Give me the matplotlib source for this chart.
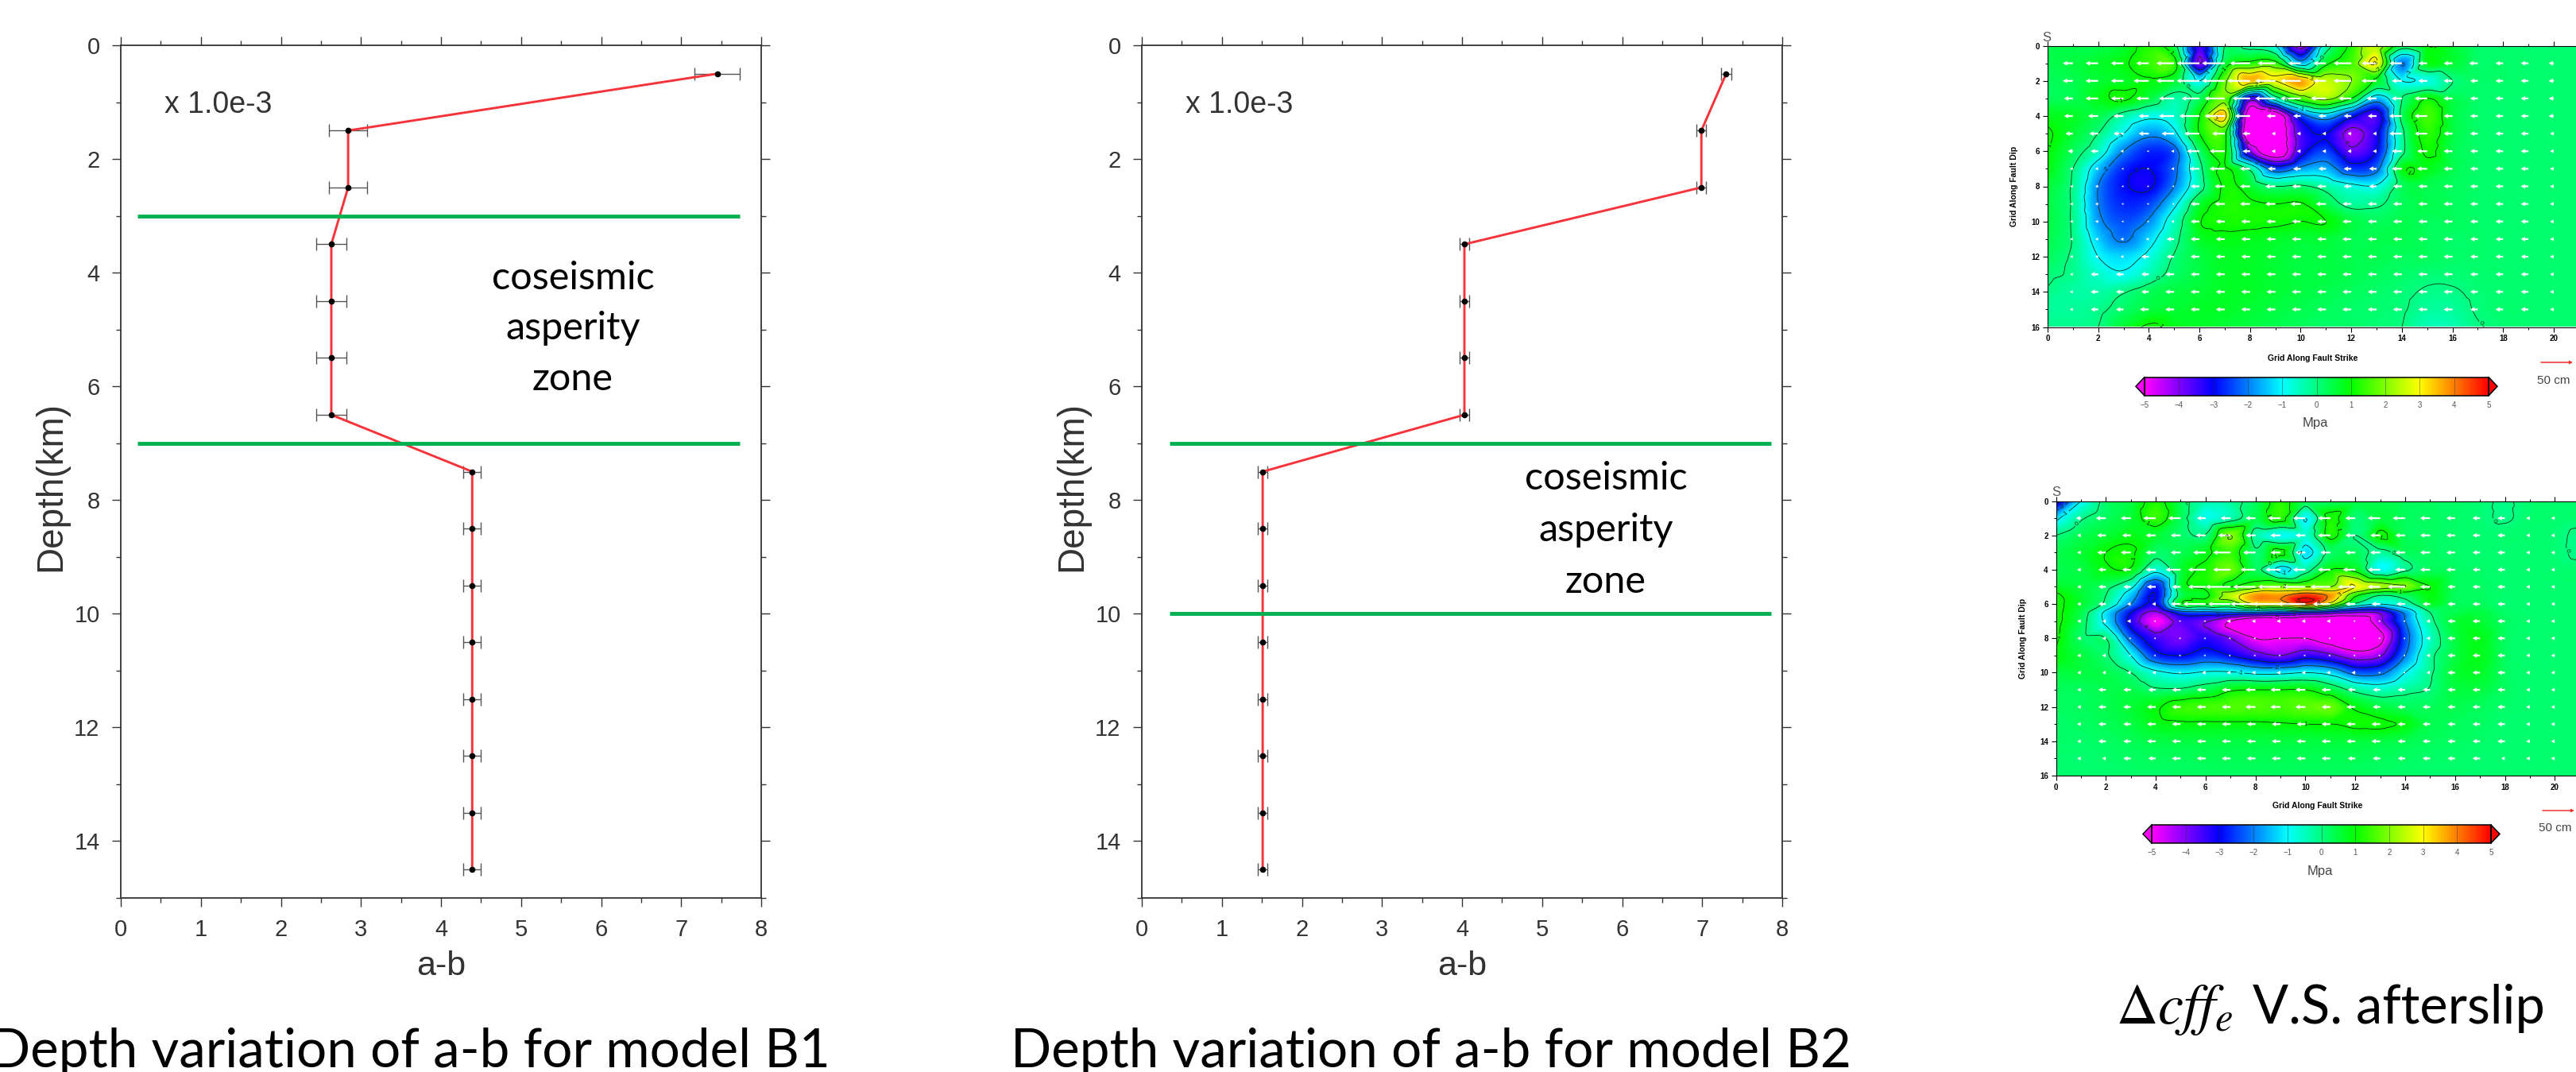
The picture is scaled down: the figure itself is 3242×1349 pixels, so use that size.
#!/usr/bin/env python3
"""Depth variation of a-b for models B1/B2 and the two stress-change maps."""
import matplotlib

matplotlib.use("Agg")

import matplotlib.pyplot as plt
import matplotlib.tri as mtri
import numpy as np
from matplotlib.colors import LinearSegmentedColormap
from matplotlib.patches import FancyArrowPatch, Polygon

W, H = 3242, 1349

depth = [0.5, 1.5, 2.5, 3.5, 4.5, 5.5, 6.5, 7.5, 8.5, 9.5, 10.5, 11.5, 12.5, 13.5, 14.5]
ab_b1 = [7.45, 2.84, 2.84, 2.63, 2.63, 2.63, 2.63, 4.39, 4.39, 4.39, 4.39, 4.39, 4.39, 4.39, 4.39]
err_b1 = [0.28, 0.24, 0.24, 0.185, 0.185, 0.185, 0.185, 0.11, 0.11, 0.11, 0.11, 0.11, 0.11, 0.11, 0.11]
ab_b2 = [7.3, 6.99, 6.99, 4.03, 4.03, 4.03, 4.03, 1.51, 1.51, 1.51, 1.51, 1.51, 1.51, 1.51, 1.51]
err_b2 = [0.06] * 15
zone_b1 = [3, 7]
zone_b2 = [7, 10]

strike = list(range(22))
dip_a = list(range(17))
cff_a = [
    [.4, .4, .4, .6, 1.2, .3, -3.5, 0, -.3, -1, -4.5, -.5, 1.2, 2.5, .5, 1, .6, .2, .15, .15, .15, .15],
    [.4, .5, .7, .9, 1.4, 1.3, -4, .5, 1.2, 1.3, -1.5, .8, 1.5, 3, -2, .8, .6, .2, .2, .15, .15, .15],
    [.3, .4, .6, .7, .9, .6, -1, 1.8, 3.5, 3, 3.7, 2.5, 2, .8, -1, -.8, 0, .2, .2, .15, .15, .15],
    [.3, .4, .8, 1.1, .5, -.3, .3, 1.8, -3.5, -.5, 1.5, 2.2, 1, -1.5, 0, 1, .4, .2, .15, .15, .15, .15],
    [.8, .7, .4, -.3, -.8, -.6, 1, 3.3, -6, -6, -2.5, -1.5, -2.8, -3.5, .2, 1.5, .5, .2, .15, .15, .15, .15],
    [1.1, .6, 0, -1, -1.8, -1.2, 1, 1.2, -6.5, -6, -3.5, -3, -4.3, -3.2, -.2, 1.3, .5, .2, .15, .15, .15, .15],
    [1, .3, -.5, -2, -2.7, -2.3, .2, 1.1, -4, -6, -3.4, -2.5, -3.8, -3, -.2, 1.1, .4, .2, .15, .15, .15, .15],
    [.9, 0, -1.5, -2.7, -3, -2.2, -.2, 1.1, -.2, -2.5, -1.8, -1.6, -2.6, -2.2, .8, .8, .4, .2, .15, .15, .15, .15],
    [.6, -.1, -2, -2.9, -3.1, -2, -.3, 1.1, .6, 0, .1, -.3, -.8, -.9, .3, .4, .3, .2, .15, .15, .15, .15],
    [.5, -.1, -2, -2.7, -2.5, -1.2, .6, 1.2, 1.1, 1, 1.05, .4, -.2, -.1, .3, .4, .3, .2, .15, .15, .15, .15],
    [.5, -.1, -1.8, -2.4, -1.9, -.5, .95, 1.15, 1.15, 1.1, 1, 1, .5, .3, .4, .3, .3, .2, .15, .15, .15, .15],
    [.4, -.05, -1.4, -2.1, -1.3, -.2, .7, .85, .8, .7, .6, .6, .4, .4, .4, .3, .2, .2, .15, .15, .15, .15],
    [.3, -.1, -1, -1.3, -.8, .05, .5, .7, .7, .6, .5, .5, .4, .4, .3, .3, .2, .2, .15, .15, .15, .15],
    [.1, -.1, -.6, -.9, -.4, .2, .5, .7, .7, .6, .5, .5, .4, .3, .2, .1, .1, .15, .15, .15, .15, .15],
    [-.05, -.25, -.3, -.05, .3, .5, .6, .7, .7, .6, .5, .4, .3, .2, .1, -.05, -.05, .1, .15, .15, .15, .15],
    [-.2, -.2, -.1, .2, .5, .6, .7, .7, .6, .5, .4, .3, .2, .15, .05, -.2, -.2, .05, .15, .15, .15, .15],
    [-.1, -.1, 0, .6, 1.1, .8, .7, .6, .5, .4, .3, .2, .2, .1, 0, -.4, -.4, -.05, .1, .15, .15, .15],
]
dip_b = [0, 1, 2, 3, 4, 5, 5.5, 6, 6.5, 7, 8, 9, 10, 11, 12, 13, 14, 15, 16]
cff_b = [
    [-3.5, -1, .2, .5, 1.2, .3, -.4, -.2, .3, 1.3, .3, .2, .4, .4, .3, .25, .2, .1, -.05, .15, .15, .15],
    [-1.2, -.1, .3, .6, 1.4, .3, -.8, -.3, .4, 1.3, -1, 1.2, .1, .5, .3, .25, .2, .1, -.05, .15, .15, .15],
    [0, .4, .6, .8, .6, .2, .05, 2, -.3, -.9, -.6, 1.2, 0, 1.1, .3, .25, .2, .15, .15, .15, .1, -.1],
    [.4, .6, 1, 1.1, .2, .4, .8, 1.4, .1, 1.2, -1.2, .2, .3, -.2, .3, .25, .2, .15, .15, .15, .1, -.1],
    [.4, .5, .9, .9, -.7, .6, 1.2, 1.8, .3, -1.2, -.3, 1, .8, -.9, -.1, .3, .25, .2, .15, .15, .15, .15],
    [.7, .5, .2, -.8, -2.8, .6, 1.1, 1, 1.7, 2, 2, 2, 3, 2.3, 2, 1, .3, .25, .15, .15, .15, .15],
    [1.1, .6, 0, -1.5, -3, .3, .8, 2.5, 3.8, 3.8, 4.6, 3.8, 1.2, 0, .3, .9, .3, .25, .15, .15, .15, .15],
    [1.2, .6, -.2, -2, -3, .8, 1, 1.1, 3, 3.2, 4.5, 2.5, -.2, -1, -.4, .7, .3, .3, .15, .15, .15, .15],
    [1.2, .4, -1.2, -3, -4.2, -2.5, -2.3, -2.2, -2.2, -2.5, -3, -3.5, -4, -3.8, -1.8, 0, .4, .5, .2, .15, .15, .15],
    [1.2, .3, -1.2, -3.3, -5, -3.6, -3.9, -5, -6, -6, -6, -6, -6, -4.2, -2, -.2, .6, .6, .25, .15, .15, .15],
    [1.1, .2, 0, -2.3, -3.5, -3.9, -3.3, -4, -5, -5, -5, -5.5, -6, -5.3, -2.4, -.5, .5, .8, .25, .15, .15, .15],
    [.9, .5, .1, -1, -2.7, -3, -2.6, -3, -3.6, -4, -3.4, -3.8, -4.5, -4.1, -2, -.2, .5, .8, .25, .15, .15, .15],
    [.5, .5, .4, 0, -.8, -1.1, -.9, -.9, -1.2, -1.2, -1, -1.3, -2.3, -2.2, -1, -.1, .6, .7, .25, .15, .15, .15],
    [.3, .3, .4, .4, .1, .1, .4, .9, 1, 1, 1, .5, -.2, -.5, -.2, .05, .5, .5, .25, .15, .15, .15],
    [.25, .3, .4, .6, .9, 1.4, 1.5, 1.6, 1.6, 1.5, 1.7, 1.8, .9, .5, .3, .3, .4, .3, .2, .15, .15, .15],
    [.2, .25, .35, .5, .8, .9, .9, .9, .9, .95, 1, 1, 1.1, 1.1, .9, .4, .3, .25, .15, .15, .15, .15],
    [.2, .2, .25, .35, .45, .5, .5, .5, .5, .5, .5, .55, .55, .5, .4, .3, .25, .2, .15, .15, .15, .15],
    [.15, .15, .2, .25, .3, .3, .35, .35, .35, .35, .35, .35, .35, .3, .25, .2, .2, .15, .15, .15, .15, .15],
    [.15, .15, .15, .2, .2, .25, .25, .25, .25, .25, .25, .25, .25, .2, .2, .15, .15, .15, .15, .15, .15, .15],
]

# arrows sit on a 1 km grid, 1..20 along strike and 1..15 down dip
slip_x = list(range(1, 21))
slip_y = list(range(1, 16))
slip_a = [
    [.4, .5, .5, .5, .7, .9, .9, .8, .7, .5, .5, .7, .6, .5, .35, .35, .35, .3, .3, .2],
    [.4, .5, .5, .6, .7, .9, .9, .9, .8, .8, .5, .7, .6, .4, .35, .35, .3, .3, .3, .2],
    [.35, .5, .5, .5, .6, .7, .8, .7, .8, .8, .6, .5, .4, .4, .5, .35, .3, .3, .3, .2],
    [.35, .4, .4, .4, .6, .8, .8, .6, .35, .3, .3, .3, .35, .5, .5, .35, .3, .3, .3, .2],
    [.3, .35, .4, .4, .5, .6, .5, .3, .15, .15, .15, .15, .15, .5, .5, .35, .3, .3, .3, .15],
    [.2, .3, .12, .08, .12, .5, .6, .3, .15, .15, .15, .15, .15, .4, .4, .35, .3, .3, .3, .15],
    [.12, .12, .08, .08, .12, .4, .6, .4, .3, .3, .3, .3, .3, .4, .4, .35, .3, .3, .3, .15],
    [.12, .12, .08, .08, .08, .35, .4, .4, .4, .35, .35, .3, .3, .35, .35, .35, .3, .3, .3, .15],
    [.12, .12, .08, .08, .08, .35, .4, .4, .4, .4, .4, .35, .35, .35, .35, .35, .3, .3, .3, .15],
    [.12, .12, .08, .08, .12, .35, .35, .35, .35, .35, .35, .35, .35, .35, .35, .35, .3, .3, .3, .15],
    [.12, .12, .12, .12, .3, .35, .35, .35, .35, .35, .35, .35, .35, .35, .35, .35, .3, .3, .3, .15],
    [.12, .12, .12, .3, .3, .35, .35, .35, .35, .35, .35, .35, .35, .35, .35, .35, .3, .3, .3, .15],
    [.12, .3, .3, .3, .35, .35, .35, .35, .35, .35, .35, .35, .35, .35, .35, .35, .3, .3, .3, .15],
    [.12, .3, .3, .3, .35, .35, .35, .35, .35, .35, .35, .35, .35, .35, .35, .35, .3, .3, .3, .15],
    [.12, .3, .3, .35, .35, .35, .35, .35, .35, .35, .35, .35, .35, .35, .35, .35, .3, .3, .3, .15],
]
slip_b = [
    [.2, .4, .4, .5, .5, .35, .4, .4, .5, .5, .5, .4, .5, .5, .4, .35, .3, .3, .15, .15],
    [.15, .35, .35, .4, .4, .4, .5, .4, .4, .4, .5, .4, .4, .4, .4, .35, .3, .3, .15, .15],
    [.15, .35, .4, .4, .4, .5, .7, .5, .4, .4, .4, .4, .4, .4, .4, .35, .3, .3, .15, .15],
    [.15, .3, .35, .4, .6, .7, .7, .6, .6, .5, .5, .5, .5, .4, .4, .35, .3, .3, .15, .15],
    [.15, .3, .3, .35, .35, .7, 1, .9, .9, .9, .8, .7, .5, .7, .4, .3, .3, .3, .15, .15],
    [.15, .3, .15, .15, .4, .9, .9, 1, 1.1, 1.1, .7, .4, .35, .35, .3, .3, .3, .3, .15, .15],
    [.15, .15, .15, .08, .08, .08, .15, .15, .15, .15, .15, .08, .08, .08, .15, .3, .3, .3, .15, .15],
    [.15, .15, .08, .08, .08, .08, .08, .08, .08, .08, .08, .08, .08, .08, .15, .3, .3, .3, .15, .15],
    [.15, .15, .08, .08, .08, .08, .08, .08, .08, .08, .08, .08, .08, .08, .15, .3, .3, .3, .15, .15],
    [.15, .15, .15, .15, .08, .15, .15, .15, .15, .15, .15, .15, .08, .08, .15, .3, .3, .3, .15, .15],
    [.15, .3, .3, .3, .35, .35, .35, .4, .4, .4, .35, .3, .3, .3, .3, .3, .3, .3, .15, .15],
    [.15, .3, .3, .35, .35, .35, .35, .4, .4, .4, .35, .35, .3, .3, .3, .3, .3, .3, .15, .15],
    [.15, .3, .3, .35, .35, .35, .35, .35, .35, .35, .35, .35, .35, .3, .3, .3, .3, .3, .15, .15],
    [.15, .3, .3, .35, .35, .35, .35, .35, .35, .35, .35, .35, .35, .3, .3, .3, .3, .3, .15, .15],
    [.15, .15, .3, .3, .35, .35, .35, .35, .35, .35, .35, .3, .3, .3, .3, .3, .3, .15, .15, .15],
]

cbar_ticks = [-5, -4, -3, -2, -1, 0, 1, 2, 3, 4, 5]
cmap = LinearSegmentedColormap.from_list(
    "cff",
    [(0.0, "#ff00ff"), (0.2, "#0000ff"), (0.4, "#00ffff"), (0.5, "#00ff80"),
     (0.6, "#00ff00"), (0.8, "#ffff00"), (1.0, "#ff0000")],
)


def add_axes(fig, x0, y0, x1, y1):
    return fig.add_axes([x0 / W, 1 - y1 / H, (x1 - x0) / W, (y1 - y0) / H])


def put(fig, x, y, s, **kw):
    kw.setdefault("ha", "center")
    kw.setdefault("va", "center")
    return fig.text(x / W, 1 - y / H, s, **kw)


def profile(fig, x0, ab, err, zone, green, note_x, note_y):
    ax = add_axes(fig, x0, 57, x0 + 806, 1130)
    ax.set_xlim(0, 8)
    ax.set_ylim(15, 0)
    for z in zone:
        ax.plot(green, [z, z], color="#00b050", lw=3.5, solid_capstyle="butt", zorder=4)
    ax.errorbar(ab, depth, xerr=err, fmt="none", ecolor="#555555", elinewidth=1,
                capsize=5.5, capthick=1, zorder=2)
    ax.plot(ab, depth, color="#f5333a", lw=2.1, zorder=3)
    ax.plot(ab, depth, "o", color="black", ms=4.5, zorder=5)
    ax.set_xticks(range(9))
    ax.set_xticks(np.arange(0, 8.5, 0.5), minor=True)
    ax.set_yticks(range(0, 15, 2))
    ax.set_yticks(range(0, 16), minor=True)
    ax.tick_params(which="major", direction="out", length=8, width=1, top=True, right=True,
                   labelsize=21, labelcolor="#333333", color="#333333", pad=11)
    ax.tick_params(which="minor", direction="out", length=4, width=1, top=True, right=True,
                   color="#333333")
    for s in ax.spines.values():
        s.set_color("#333333")
        s.set_linewidth(1.3)
    put(fig, x0 + 123, 132, "x 1.0e-3", fontsize=27, color="#333333")
    put(fig, x0 - 88, 612, "Depth(km)", fontsize=33, rotation=90, color="#333333")
    put(fig, x0 + 403, 1216, "a-b", fontsize=31, color="#333333")
    for yy, line in zip(note_y, ["coseismic", "asperity", "zone"]):
        put(fig, note_x, yy, line, family="Lato", fontsize=35, color="black")


def cff_map(fig, x0, y0, x1, y1, xmax, dip, cff, slip):
    ax = add_axes(fig, x0, y0, x1, y1)
    xg, yg = np.meshgrid(strike, dip)
    tri = mtri.Triangulation(xg.ravel(), yg.ravel())
    interp = mtri.CubicTriInterpolator(tri, np.array(cff, dtype=float).ravel(), kind="geom")
    xf, yf = np.meshgrid(np.linspace(0, 21, 421), np.linspace(0, 16, 321))
    zf = np.ma.filled(interp(xf, yf), 0.15)
    ax.imshow(zf, extent=[0, 21, 16, 0], cmap=cmap, vmin=-5, vmax=5, aspect="auto",
              interpolation="bilinear", zorder=1)
    cs = ax.contour(xf, yf, zf, levels=cbar_ticks, colors="#123012", linewidths=0.6,
                    linestyles="solid", zorder=2)
    ax.clabel(cs, fmt="%d", fontsize=6, inline=True, inline_spacing=1)
    sx, sy = np.meshgrid(slip_x, slip_y)
    ax.quiver(sx, sy, -np.array(slip), np.zeros_like(sx, dtype=float), angles="xy",
              scale_units="xy", scale=1, pivot="tail", color="white", units="dots",
              width=2.2, headwidth=2.8, headlength=2.6, headaxislength=2.3, minlength=0.3,
              zorder=3)
    ax.set_xlim(0, xmax)
    ax.set_ylim(16, 0)
    ax.set_xticks(range(0, 21, 2))
    ax.set_xticks(range(0, 21), minor=True)
    ax.set_yticks(range(0, 17, 2))
    ax.set_yticks(range(0, 17), minor=True)
    ax.tick_params(which="major", direction="out", length=4, width=0.8, top=True, pad=3)
    ax.tick_params(which="minor", direction="out", length=2, width=0.7, top=True)
    for lab in ax.get_xticklabels() + ax.get_yticklabels():
        lab.set_fontsize(7)
        lab.set_fontweight("bold")
    ax.spines["right"].set_visible(False)
    return ax


def colorbar(fig, x0, y0, x1, y1):
    ax = add_axes(fig, x0, y0, x1, y1)
    grad = np.linspace(-5, 5, 512).reshape(1, -1)
    ax.imshow(grad, extent=[-5, 5, 0, 1], cmap=cmap, vmin=-5, vmax=5, aspect="auto")
    ax.vlines(cbar_ticks, 0, 1, color="#333333", lw=0.5, alpha=0.6)
    ax.set_xlim(-5, 5)
    ax.set_ylim(0, 1)
    ax.set_yticks([])
    ax.set_xticks(cbar_ticks)
    ax.tick_params(length=0, labelsize=7, labelcolor="#555555", pad=5)
    for s in ax.spines.values():
        s.set_linewidth(1.1)
    dx = 11 / (x1 - x0) * 10
    for side, col in [(-1, "#ff00ff"), (1, "#ff0000")]:
        tip = side * (5 + dx)
        ax.add_patch(Polygon([(side * 5, 0), (tip, 0.5), (side * 5, 1)], closed=True, fc=col,
                             ec="black", lw=1.1, clip_on=False))


def main():
    plt.rcParams["font.family"] = ["Liberation Sans", "DejaVu Sans"]
    plt.rcParams["mathtext.fontset"] = "stix"
    fig = plt.figure(figsize=(W / 100, H / 100), dpi=100, facecolor="white")

    profile(fig, 152, ab_b1, err_b1, zone_b1, [0.21, 7.73], 721, [350, 413, 477])
    profile(fig, 1437, ab_b2, err_b2, zone_b2, [0.35, 7.86], 2021, [602, 667, 732])

    cff_map(fig, 2577, 57.5, 3242, 411.5, 20.88, dip_a, cff_a, slip_a)
    cff_map(fig, 2587.5, 630.5, 3242, 976, 20.85, dip_b, cff_b, slip_b)
    colorbar(fig, 2699, 474.5, 3132, 498)
    colorbar(fig, 2708, 1038, 3135, 1061)

    for yc, xl, sx, sy, cbx, cby, mx, my, ax0, ay in [
        (234, 2535, 2576, 47, 3214, 479, 2914, 533, 3198, 456),
        (803, 2546, 2588, 620, 3216, 1042, 2920, 1096, 3200, 1020),
    ]:
        put(fig, xl, yc, "Grid Along Fault Dip", fontsize=7.5, fontweight="bold", rotation=90)
        put(fig, sx, sy, "S", fontsize=12, color="#555555")
        put(fig, cbx, cby, "50 cm", fontsize=11, color="#444444")
        put(fig, mx, my, "Mpa", fontsize=12, color="#444444")
        fig.add_artist(FancyArrowPatch(
            (ax0 / W, 1 - ay / H), ((ax0 + 40) / W, 1 - ay / H), transform=fig.transFigure,
            arrowstyle="-|>", mutation_scale=5, color="#f03030", lw=1.1, shrinkA=0, shrinkB=0))
    put(fig, 2911, 451, "Grid Along Fault Strike", fontsize=7.5, fontweight="bold")
    put(fig, 2917, 1014, "Grid Along Fault Strike", fontsize=7.5, fontweight="bold")

    put(fig, 1045, 1343, "Depth variation of a-b for model B1", family="Lato", fontsize=48.5,
        ha="right", va="baseline")
    put(fig, 2330, 1343, "Depth variation of a-b for model B2", family="Lato", fontsize=48.5,
        ha="right", va="baseline")
    put(fig, 2663, 1288, r"$\Delta cff_e$", fontsize=52, ha="left", va="baseline")
    put(fig, 3203, 1288, "V.S. afterslip", family="Lato", fontsize=48, ha="right", va="baseline")

    fig.savefig("out.png", dpi=100, facecolor="white")
    plt.close(fig)


if __name__ == "__main__":
    main()
